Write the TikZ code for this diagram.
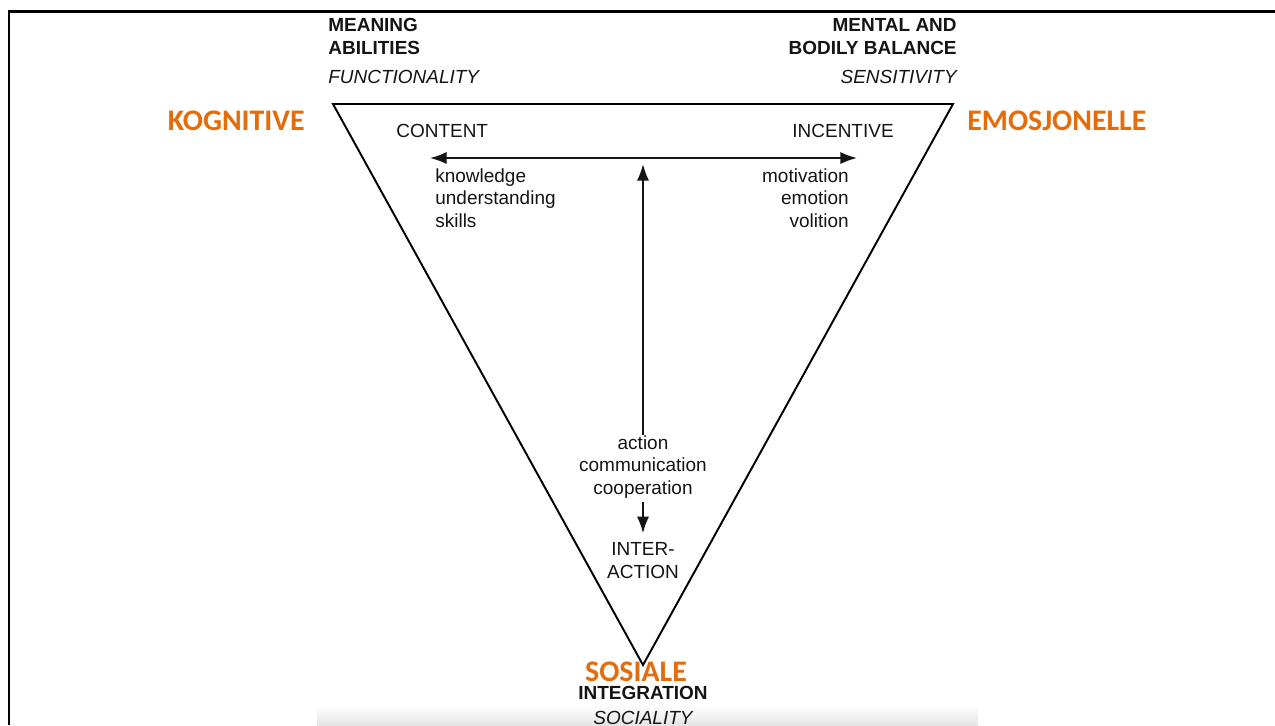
\documentclass[tikz,border=0pt]{standalone}
\usepackage{fontspec}
\setmainfont{Liberation Sans}
\newfontfamily\headfont{Carlito}
\usepackage{xcolor}
\usetikzlibrary{arrows.meta, positioning}
\definecolor{dkorange}{RGB}{228,108,10}
\definecolor{lnblack}{RGB}{20,20,20}

\begin{document}
\begin{tikzpicture}[
  x=0.02cm, y=-0.02cm,
  every node/.style={inner sep=0pt, text=lnblack,
                     font=\fontsize{10.8}{13}\selectfont},
  corner/.style={font=\fontsize{10.8}{13}\selectfont\bfseries},
  quality/.style={font=\fontsize{10.8}{13}\selectfont\itshape},
  areaname/.style={text=dkorange, font=\headfont\bfseries\fontsize{17}{20}\selectfont},
  item/.style={font=\fontsize{10.8}{12.8}\selectfont},
  arrow/.style={-{Latex[length=9.5pt,width=7pt]}, line width=1.1pt, color=lnblack},
]
\useasboundingbox (0,0) rectangle (1275,725);

% ── frame and bottom strip ──
\draw[line width=1.7pt] (9,725) -- (9,11) -- (1275,11);
\shade[top color=white, bottom color=black!10] (317,705) rectangle (978,725);

% ── triangle ──
\coordinate (tl) at (333,104);
\coordinate (tr) at (953,104);
\coordinate (bt) at (643,665);
\draw[line width=1.1pt, line join=miter] (tl) -- (tr) -- (bt) -- cycle;

% ── corner labels ──
\node[corner, align=left, anchor=north west] (mean) at (328,18) {MEANING\\ABILITIES};
\node[quality, anchor=west] (func) at (328,77) {FUNCTIONALITY};
\node[corner, align=right, anchor=north east] (ment) at (957,18) {MENTAL AND\\BODILY BALANCE};
\node[quality, anchor=east] (sens) at (957,77) {SENSITIVITY};
\node[areaname, anchor=east] (kog) at (305,121) {KOGNITIVE};
\node[areaname, anchor=west] (emo) at (967,121) {EMOSJONELLE};

% ── inside the triangle ──
\node[anchor=west] (cont) at (396,131) {CONTENT};
\node[anchor=east] (ince) at (894,131) {INCENTIVE};
\coordinate (lt) at (430,158);
\coordinate (rt) at (857,158);
\draw[arrow, {Latex[length=9.5pt,width=7pt]}-{Latex[length=9.5pt,width=7pt]}] (lt) -- (rt);
\node[item, align=left, anchor=north west] (know) at (435,168)
  {knowledge\\understanding\\skills};
\node[item, align=right, anchor=north east] (moti) at (849,168)
  {motivation\\emotion\\volition};
\node[item, align=center, anchor=north] (act) at (643,435)
  {action\\communication\\cooperation};
\coordinate (vt) at (643,164);
\draw[arrow] (act.north) -- (vt);
\node[align=center, anchor=north] (inter) at (643,542) {INTER-\\ACTION};
\draw[arrow, shorten <=2pt, shorten >=5pt] (act.south) -- (inter.north);

% ── bottom labels ──
\node[areaname] (sos) at (636,672) {SOSIALE};
\node[corner] (integ) at (643,693) {INTEGRATION};
\node[quality] (soc) at (643,718) {SOCIALITY};

\end{tikzpicture}
\end{document}
